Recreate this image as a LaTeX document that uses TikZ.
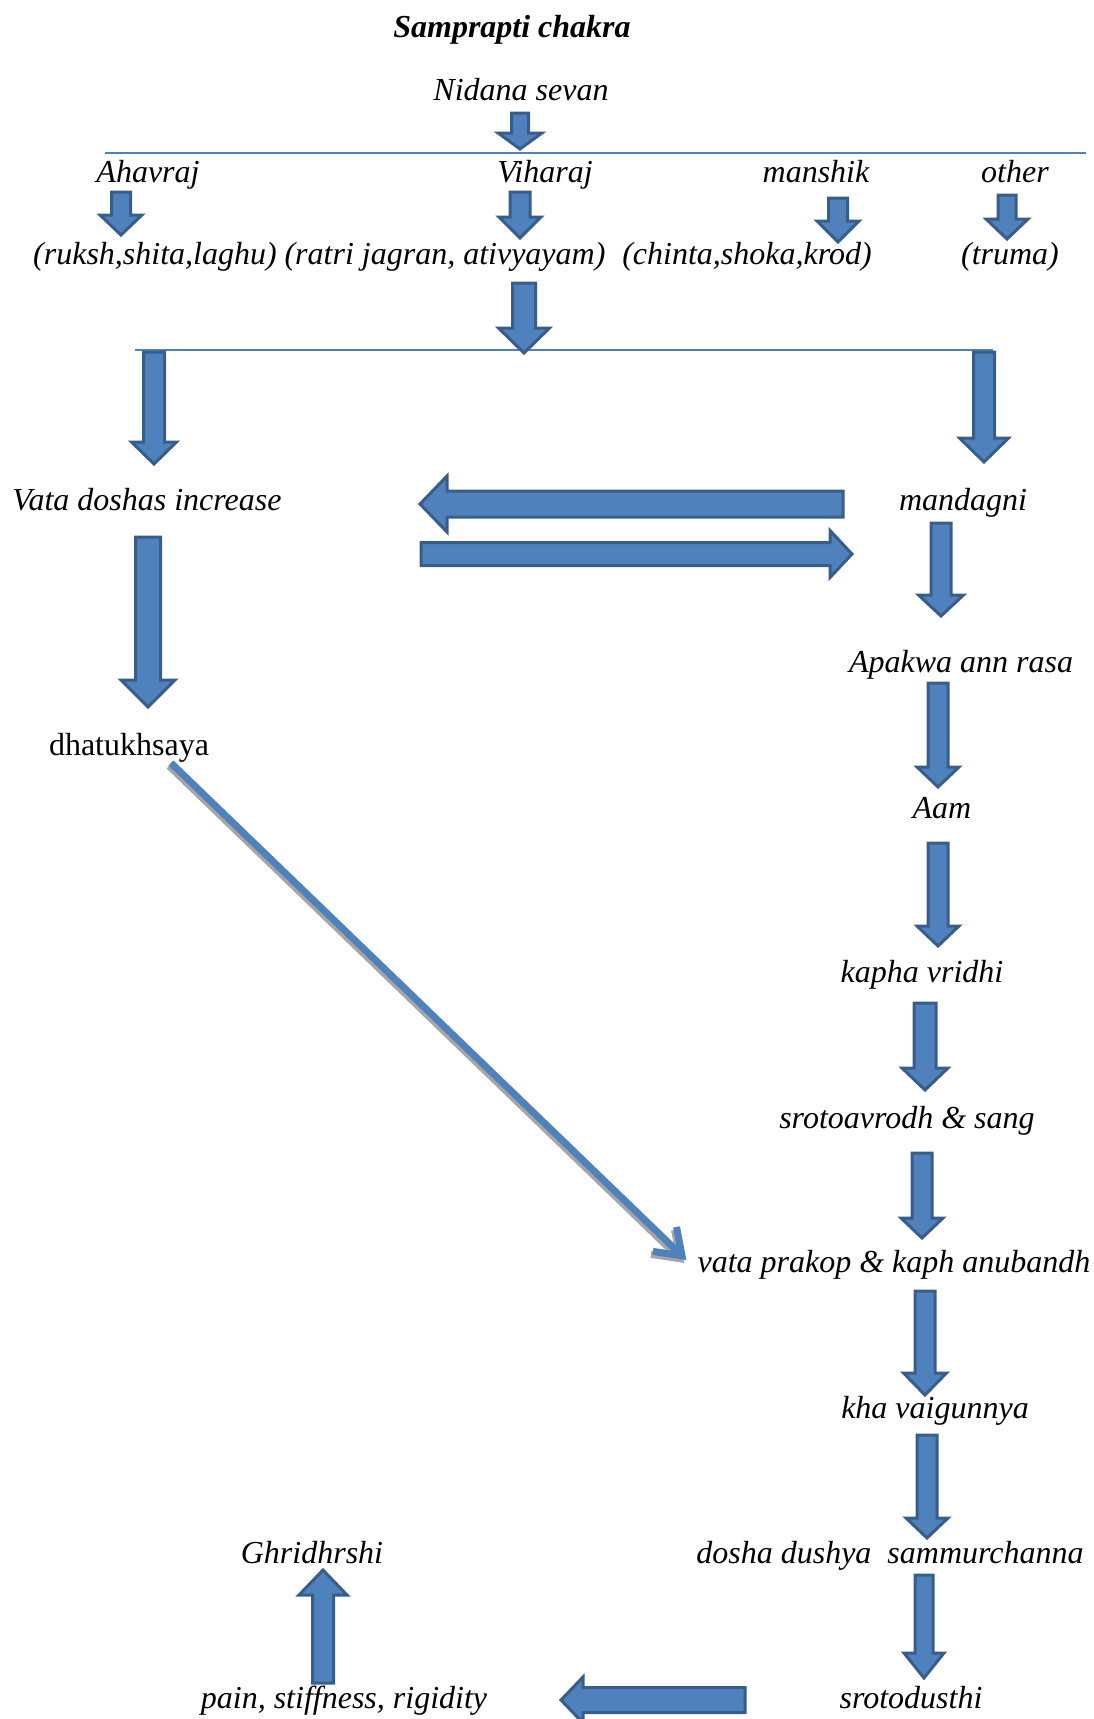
\documentclass[tikz,border=0pt]{standalone}
\usepackage{fontspec}
\setmainfont{Liberation Serif}
\usetikzlibrary{calc,arrows.meta}
\definecolor{blu}{HTML}{4F81BD}
\definecolor{blud}{HTML}{385D8A}
\definecolor{shd}{HTML}{A6A6A6}
\newcommand\blk[5]{%
  \coordinate (bkS) at #1; \coordinate (bkE) at #2;
  \coordinate (bkH) at ($(bkE)!#5pt!(bkS)$);
  \draw[blkarrow] ($(bkS)!#3pt!90:(bkE)$) -- ($(bkH)!#3pt!90:(bkE)$) -- ($(bkH)!#4pt!90:(bkE)$) -- (bkE)
     -- ($(bkH)!#4pt!-90:(bkE)$) -- ($(bkH)!#3pt!-90:(bkE)$) -- ($(bkS)!#3pt!-90:(bkE)$) -- cycle;}
\tikzset{
  lbl/.style={font=\itshape\fontsize{32}{38}\selectfont, inner sep=0pt, text height=25.5pt, text depth=4pt},
  lblup/.style={font=\fontsize{32}{38}\selectfont, inner sep=0pt, text height=25.5pt, text depth=4pt},
  ttl/.style={font=\bfseries\itshape\fontsize{32}{38}\selectfont, inner sep=0pt, text height=25.5pt, text depth=4pt},
  blkarrow/.style={draw=blud, fill=blu, line width=3pt, line join=miter},
  hline/.style={draw=blu, line width=2pt},
  diag/.style={draw=blu, line width=7pt, -{Straight Barb[length=24pt,width=34pt]}},
  diagshadow/.style={draw=shd, line width=7pt, -{Straight Barb[length=24pt,width=34pt]}}
}
\begin{document}
\begin{tikzpicture}[x=1pt,y=-1pt]
\useasboundingbox (0,0) rectangle (1094,1719);
% labels
\node[ttl] (title) at (512,27) {Samprapti chakra};
\node[lbl] (nidana) at (521,90) {Nidana sevan};
\node[lbl] (ahav) at (148,172) {Ahavraj};
\node[lbl] (vihar) at (545,172) {Viharaj};
\node[lbl] (mansh) at (816,172) {manshik};
\node[lbl] (other) at (1015,172) {other};
\node[lbl] (r1) at (155,254) {(ruksh,shita,laghu)};
\node[lbl] (r2) at (445,254) {(ratri jagran, ativyayam)};
\node[lbl] (r3) at (747,254) {(chinta,shoka,krod)};
\node[lbl] (r4) at (1010,254) {(truma)};
\node[lbl] (vata) at (147,500) {Vata doshas increase};
\node[lbl] (mand) at (963,500) {mandagni};
\node[lblup] (dhatu) at (129,745) {dhatukhsaya};
\node[lbl] (apakwa) at (961,662) {Apakwa ann rasa};
\node[lbl] (aam) at (942,808) {Aam};
\node[lbl] (kapha) at (922,972) {kapha vridhi};
\node[lbl] (sroto) at (907,1118) {srotoavrodh \& sang};
\node[lbl] (vatap) at (894,1262) {vata prakop \& kaph anubandh};
\node[lbl] (kha) at (935,1408) {kha vaigunnya};
\node[lbl] (dosha) at (890,1553) {dosha dushya\enspace sammurchanna};
\node[lbl] (srotod) at (911,1698) {srotodusthi};
\node[lbl] (pain) at (344,1698) {pain, stiffness, rigidity};
\node[lbl] (ghri) at (312,1553) {Ghridhrshi};
% horizontal lines
\draw[hline] (105,153) -- (1086,153);
\draw[hline] (135,350) -- (993,350);
% block arrows
\blk{(520,113)}{(520,149)}{8.5}{22}{16}
\blk{(121,192)}{(121,235)}{9.5}{21}{20}
\blk{(520,192)}{(520,238)}{10}{21}{21}
\blk{(838,198)}{(838,242)}{9.5}{21}{21}
\blk{(1007,195)}{(1007,239)}{9}{21}{20}
\blk{(524,283)}{(524,353)}{11.5}{25.5}{25}
\blk{(154,352)}{(154,464)}{10.5}{22.5}{22}
\blk{(984,352)}{(984,462)}{10.5}{24.5}{24}
\blk{(843,504)}{(420,504)}{13}{28}{27}
\blk{(421,554)}{(852,554)}{11.5}{23.5}{22}
\blk{(148,537)}{(148,707)}{12.5}{27}{27}
\blk{(941,523)}{(941,616)}{10}{22.5}{21}
\blk{(938,683)}{(938,787)}{10}{21}{20}
\blk{(938,843)}{(938,946)}{10}{21}{20}
\blk{(925,1003)}{(925,1090)}{11}{23}{22}
\blk{(922,1153)}{(922,1238)}{10}{21}{20}
\blk{(925,1291)}{(925,1395)}{10}{21.5}{22}
\blk{(927,1435)}{(927,1538)}{10}{21}{20}
\blk{(924,1575)}{(924,1678)}{9}{20}{25}
\blk{(745,1700)}{(561,1700)}{12.5}{23}{22}
\blk{(323,1683)}{(323,1570)}{10.5}{24}{25}
% diagonal arrow
\coordinate (dS) at ([xshift=42pt,yshift=-3pt]dhatu.south);
\coordinate (dE) at ([xshift=-11pt,yshift=2pt]vatap.west);
\draw[diagshadow, transform canvas={xshift=-2pt,yshift=-3pt}] (dS) -- (dE);
\draw[diag] (dS) -- (dE);
\end{tikzpicture}
\end{document}
